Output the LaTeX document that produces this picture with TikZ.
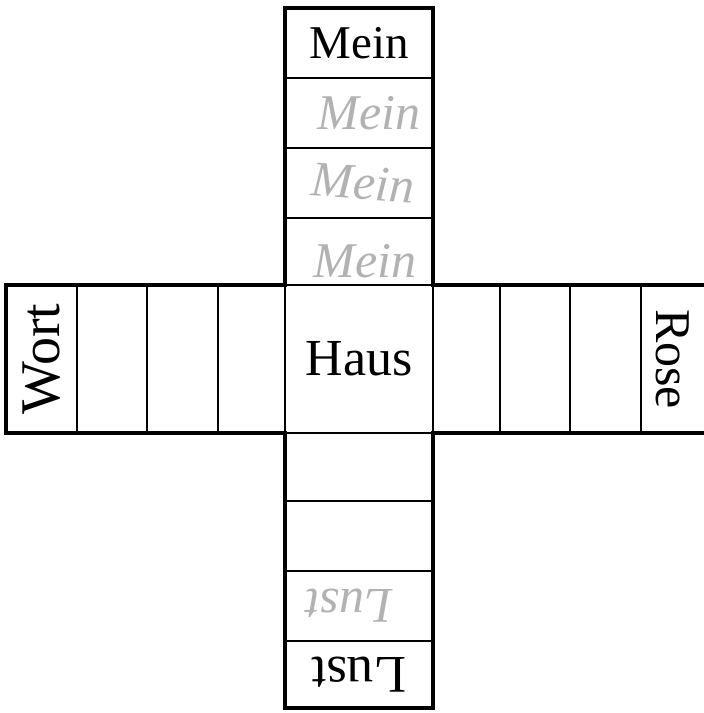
\documentclass[tikz,border=0pt]{standalone}
\usepackage{fontspec}
\setmainfont{Liberation Serif}
\usetikzlibrary{positioning}

\begin{document}
\begin{tikzpicture}[
  x=1pt, y=-1pt,
  node distance=0pt,
  cell/.style={draw, line width=1.2pt, inner sep=0pt, outer sep=0pt},
  vcell/.style={cell, minimum width=148pt, minimum height=70pt},
  hcell/.style={cell, minimum width=70pt, minimum height=148pt},
  word/.style={font=\fontsize{#1}{#1}\selectfont},
  pencil/.style={font=\fontsize{50}{54}\selectfont\itshape, text=black!30},
  rim/.style={line width=4.5pt, line cap=rect}
]
\useasboundingbox (0,0) rectangle (704,713);
% ---- centre ----
\node[cell, minimum size=148pt, word=52] (haus) at (359,359) {Haus};
% ---- upper arm ----
\node[vcell, minimum height=67pt, above=of haus] (m4) {};
\node[vcell, above=of m4] (m3) {};
\node[vcell, above=of m3] (m2) {};
\node[vcell, above=of m2, word=47] (m1) {Mein};
\node[pencil, xshift=10pt] (p2) at (m2) {Mein};
\node[pencil, rotate=-4, xshift=4pt] (p3) at (m3) {Mein};
\node[pencil, xshift=6pt, yshift=-10pt] (p4) at (m4) {Mein};
% ---- lower arm ----
\node[vcell, minimum height=68pt, below=of haus] (l4) {};
\node[vcell, below=of l4] (l3) {};
\node[vcell, below=of l3] (l2) {};
\node[vcell, minimum height=67pt, below=of l2, word=53] (l1) {\rotatebox{180}{Lust}};
\node[pencil, rotate=180, xshift=10pt] (q2) at (l2) {Lust};
% ---- left arm ----
\node[hcell, minimum width=67pt, left=of haus] (w4) {};
\node[hcell, minimum width=71pt, left=of w4] (w3) {};
\node[hcell, left=of w3] (w2) {};
\node[hcell, minimum width=71pt, left=of w2, word=56] (w1) {\rotatebox{90}{Wort}};
% ---- right arm ----
\node[hcell, minimum width=67pt, right=of haus] (r4) {};
\node[hcell, right=of r4] (r3) {};
\node[hcell, minimum width=71pt, right=of r3] (r2) {};
\node[hcell, minimum width=63pt, draw=none, right=of r2, word=50] (r1) {\rotatebox{-90}{Rose}};
% ---- heavy outline ----
\draw[rim] (r1.north east) -- (haus.north east) -- (m1.north east)
  -- (m1.north west) -- (haus.north west) -- (w1.north west)
  -- (w1.south west) -- (haus.south west) -- (l1.south west)
  -- (l1.south east) -- (haus.south east) -- (r1.south east);
\end{tikzpicture}
\end{document}
